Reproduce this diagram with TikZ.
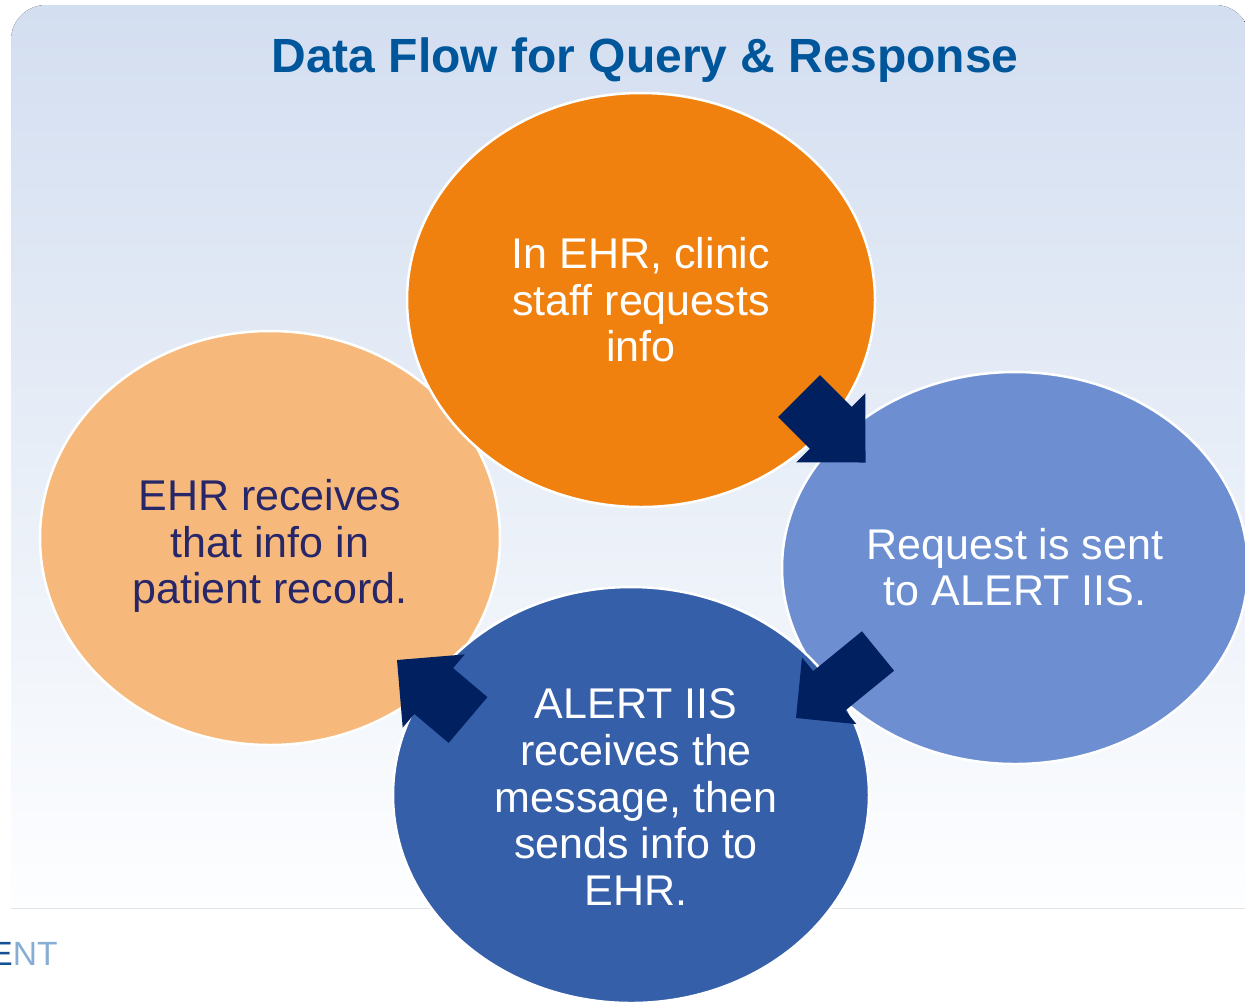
\documentclass[tikz,border=0pt]{standalone}
\usepackage{fontspec}
\setmainfont{Liberation Sans}
\usetikzlibrary{shapes.geometric}
\definecolor{bgtop}{RGB}{211,222,240}
\definecolor{bgbot}{RGB}{253,254,255}
\definecolor{titleblue}{RGB}{0,86,154}
\definecolor{orangeA}{RGB}{240,129,15}
\definecolor{orangeB}{RGB}{246,185,123}
\definecolor{blueA}{RGB}{109,143,210}
\definecolor{blueB}{RGB}{54,95,170}
\definecolor{navy}{RGB}{0,32,96}
\definecolor{darktext}{RGB}{38,38,105}
\definecolor{entdark}{RGB}{20,80,150}
\definecolor{entlight}{RGB}{134,174,212}
\tikzset{
  blob/.style={ellipse, draw=white, line width=1.25pt, inner sep=0pt},
  bodytext/.style={align=center, inner sep=0pt, font=\fontsize{21.5pt}{23.3pt}\selectfont},
  blockarrow/.style={fill=navy, draw=none}
}
\begin{document}
\begin{tikzpicture}[x=0.5pt, y=-0.5pt]
\useasboundingbox (0,0) rectangle (1245,1001);
% background panel
\fill[top color=bgtop, bottom color=bgbot]
  (11,908) -- (11,40) arc[start angle=180, end angle=270, radius=35]
  -- (1215,5) arc[start angle=270, end angle=360, radius=35]
  -- (1250,908) -- cycle;
% title
\node[font=\fontsize{24pt}{28pt}\selectfont\bfseries, text=titleblue, inner sep=0pt] (title) at (645,60) {Data Flow for Query \& Response};
% ellipses (sizes in pt = px/2)
\node[blob, fill=orangeB, minimum width=230pt, minimum height=207pt] (ehr) at (270,538) {};
\node[blob, fill=blueA, minimum width=233pt, minimum height=196pt] (req) at (1015,568) {};
\node[blob, fill=orangeA, minimum width=234pt, minimum height=207pt] (clinic) at (641,300) {};
\node[blob, fill=blueB, minimum width=238pt, minimum height=208pt] (iis) at (631,795) {};
% block arrows
\fill[blockarrow] (778.1,416.9) -- (809.9,448.7) -- (796.2,462.4) -- (865.5,462.5)
  -- (865.4,393.2) -- (851.7,406.9) -- (819.9,375.1) -- cycle;
\fill[blockarrow] (894.1,670.7) -- (845.3,710.5) -- (856.4,724.1) -- (796,718)
  -- (802,657.5) -- (813.1,671.1) -- (861.9,631.3) -- cycle;
\fill[blockarrow] (487.4,697.1) -- (453.1,668.1) -- (464.7,654.4) -- (397,660)
  -- (402.7,727.6) -- (414.3,713.9) -- (448.6,742.9) -- cycle;
% texts
\node[bodytext, text=white] (clinictext) at (clinic.center) {In EHR, clinic\\staff requests\\info};
\node[bodytext, text=white] (reqtext) at (1015,567) {Request is sent\\to ALERT IIS.};
\node[bodytext, text=white] (iistext) at (636,797) {ALERT IIS\\receives the\\message, then\\sends info to\\EHR.};
\node[bodytext, text=darktext] (ehrtext) at (270,546) {EHR receives\\that info in\\patient record.};
% cut-off footer text
\node[anchor=base west, inner sep=0pt, font=\fontsize{16.8pt}{20pt}\selectfont] (footer) at (-10,965) {\textcolor{entdark}{E}\textcolor{entlight}{NT}};
\end{tikzpicture}
\end{document}
